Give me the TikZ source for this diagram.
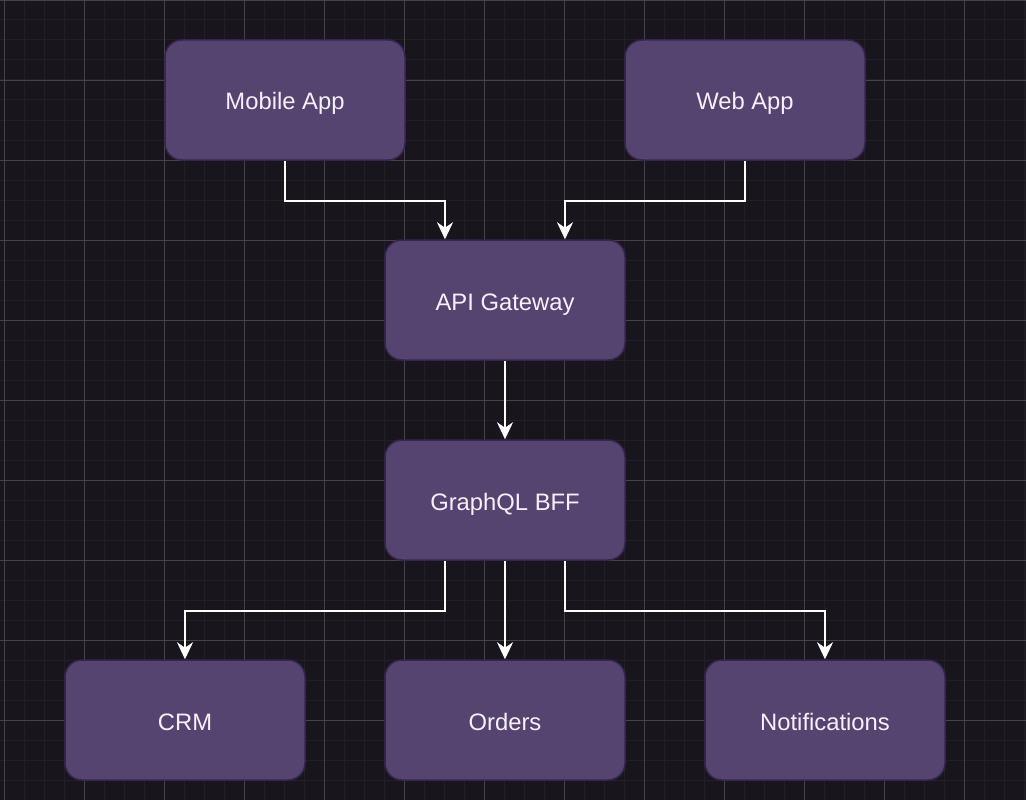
\documentclass[tikz,border=0pt]{standalone}
\usepackage{fontspec}
\setmainfont{Liberation Sans}
\usetikzlibrary{arrows.meta}
\definecolor{bg}{HTML}{18151C}
\definecolor{gridminor}{HTML}{231F28}
\definecolor{gridmajor}{HTML}{46424D}
\definecolor{boxfill}{HTML}{55446F}
\definecolor{boxedge}{HTML}{36264F}
\definecolor{txt}{HTML}{F6F0FB}
\tikzset{
  svc/.style={draw=boxedge, line width=1.5pt, fill=boxfill, rounded corners=17pt,
    minimum width=240pt, minimum height=120pt, inner sep=0pt, text=txt,
    text height=24pt, text depth=4pt,
    font=\fontsize{23.8}{28}\selectfont},
  flow/.style={draw=white, line width=2pt,
    -{Stealth[length=17pt, width=16pt, inset=5.5pt]}}
}
\begin{document}
\begin{tikzpicture}[x=1pt, y=-1pt]
\fill[bg] (0,0) rectangle (1026,800);
\useasboundingbox (0,0) rectangle (1026,800);
\foreach \gx in {4,24,...,1024} \draw[gridminor, line width=1pt] (\gx,0) -- (\gx,800);
\foreach \gy in {20,40,...,780} \draw[gridminor, line width=1pt] (0,\gy) -- (1026,\gy);
\foreach \gx in {4,84,...,1024} \draw[gridmajor, line width=0.8pt] (\gx,0) -- (\gx,800);
\foreach \gy in {0,80,...,800} \draw[gridmajor, line width=0.8pt] (0,\gy) -- (1026,\gy);

\node[svc] (mobile) at (285,100) {Mobile App};
\node[svc] (web) at (745,100) {Web App};
\node[svc] (api) at (505,300) {API Gateway};
\node[svc] (bff) at (505,500) {GraphQL BFF};
\node[svc] (crm) at (185,720) {CRM};
\node[svc] (orders) at (505,720) {Orders};
\node[svc] (notif) at (825,720) {Notifications};

\draw[flow] (mobile.south) -- ++(0,40) -| ([xshift=-60pt]api.north);
\draw[flow] (web.south) -- ++(0,40) -| ([xshift=60pt]api.north);
\draw[flow] (api.south) -- (bff.north);
\draw[flow] ([xshift=-60pt]bff.south) -- ++(0,50) -| (crm.north);
\draw[flow] (bff.south) -- (orders.north);
\draw[flow] ([xshift=60pt]bff.south) -- ++(0,50) -| (notif.north);
\end{tikzpicture}
\end{document}
